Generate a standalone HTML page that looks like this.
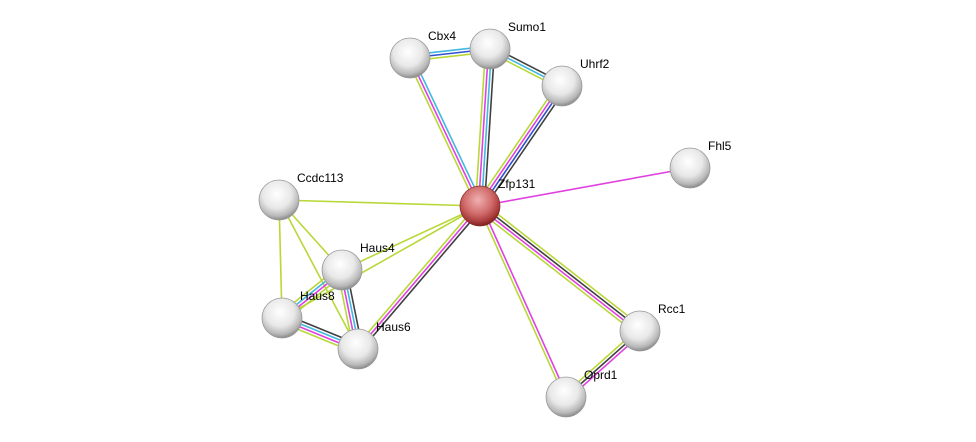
<!DOCTYPE html>
<html><head><meta charset="utf-8"><style>
html,body{margin:0;padding:0;background:#fff;width:976px;height:442px;overflow:hidden}
svg text{font-family:"Liberation Sans",sans-serif;font-size:12px;fill:#000}
</style></head><body>
<svg id="s" width="976" height="442" xmlns="http://www.w3.org/2000/svg">
<defs>
<radialGradient id="g" cx="45%" cy="35%" r="65%">
<stop offset="0" stop-color="#ffffff"/><stop offset="0.55" stop-color="#e8e8e8"/><stop offset="0.85" stop-color="#b8b8b8"/><stop offset="1" stop-color="#8a8a8a"/></radialGradient>
<radialGradient id="r" cx="45%" cy="35%" r="65%">
<stop offset="0" stop-color="#f0b0b0"/><stop offset="0.55" stop-color="#d06a6a"/><stop offset="0.85" stop-color="#a83a3a"/><stop offset="1" stop-color="#7a2020"/></radialGradient>
</defs>
<g id="e"></g><g id="n"></g>
</svg>
<script>
var N={Zfp131:[480,206],Cbx4:[410,58],Sumo1:[490,49],Uhrf2:[562,86],Fhl5:[690,168],Ccdc113:[279,200],Haus4:[342,270],Haus8:[282,318],Haus6:[358,349],Rcc1:[640,331],Oprd1:[566,397]};
var Y="#b8d838",M="#e040e0",C="#40b8e0",D="#404040",B="#3050d0";
var E=[["Zfp131","Cbx4",[Y,M,C]],["Zfp131","Sumo1",[Y,M,C,D]],["Zfp131","Uhrf2",[Y,M,B,D]],["Cbx4","Sumo1",[C,B,Y]],["Sumo1","Uhrf2",[D,C,Y]],["Zfp131","Fhl5",[M]],["Zfp131","Ccdc113",[Y]],["Zfp131","Haus4",[Y]],["Zfp131","Haus8",[Y]],["Zfp131","Haus6",[D,M,Y]],["Zfp131","Rcc1",[Y,D,M,Y]],["Zfp131","Oprd1",[M,Y]],["Rcc1","Oprd1",[M,D,Y]],["Ccdc113","Haus4",[Y]],["Ccdc113","Haus8",[Y]],["Ccdc113","Haus6",[Y]],["Haus4","Haus8",[Y,M,C,Y]],["Haus4","Haus6",[D,C,M,Y]],["Haus8","Haus6",[D,C,M,Y]]];
var ns="http://www.w3.org/2000/svg",eg=document.getElementById("e"),ng=document.getElementById("n");
E.forEach(function(e){var a=N[e[0]],b=N[e[1]],dx=b[0]-a[0],dy=b[1]-a[1],L=Math.hypot(dx,dy),px=-dy/L,py=dx/L,k=e[2].length;
e[2].forEach(function(c,i){var o=(i-(k-1)/2)*3;var l=document.createElementNS(ns,"line");
l.setAttribute("x1",a[0]+px*o);l.setAttribute("y1",a[1]+py*o);l.setAttribute("x2",b[0]+px*o);l.setAttribute("y2",b[1]+py*o);
l.setAttribute("stroke",c);l.setAttribute("stroke-width","1.6");eg.appendChild(l);});});
for(var k in N){var p=N[k];var c=document.createElementNS(ns,"circle");c.setAttribute("cx",p[0]);c.setAttribute("cy",p[1]);c.setAttribute("r",20);
c.setAttribute("fill",k=="Zfp131"?"url(#r)":"url(#g)");c.setAttribute("stroke",k=="Zfp131"?"#8a3030":"#999");c.setAttribute("stroke-width","0.8");ng.appendChild(c);
var t=document.createElementNS(ns,"text");t.setAttribute("x",p[0]+18);t.setAttribute("y",p[1]-18);t.textContent=k;ng.appendChild(t);}
</script>
</body></html>
